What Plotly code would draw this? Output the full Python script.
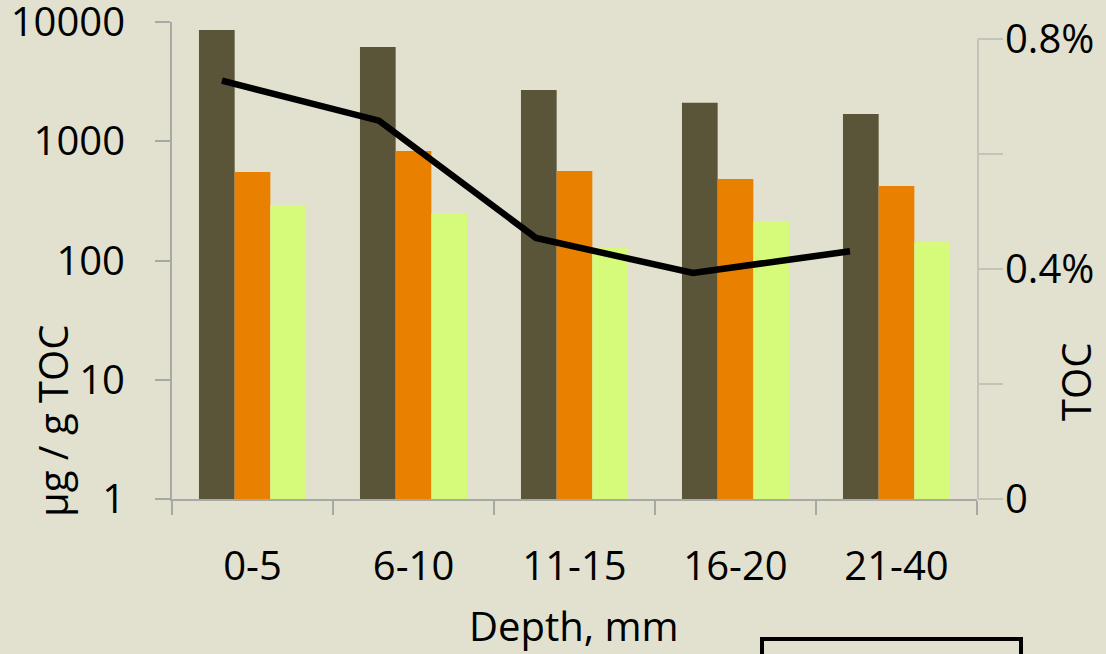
import plotly.graph_objects as go

categories = ["0-5", "6-10", "11-15", "16-20", "21-40"]
series_a = [8550, 6170, 2690, 2100, 1690]
series_b = [552, 829, 564, 482, 421]
series_c = [292, 250, 130, 214, 143]
toc_values = [0.7275, 0.658, 0.454, 0.393, 0.431]  # percent

left_tickvals = [1, 10, 100, 1000, 10000]
left_ticktext = ["1", "10", "100", "1000", "10000"]
right_tickvals = [0, 0.2, 0.4, 0.6, 0.8]
right_ticktext = ["0", "", "0.4%", "", "0.8%"]

BG = "#E2E0CE"
AX = "#A8A8A4"
FONT = "Open Sans"
FS = 40

W, H = 1106, 654
ML, MR, MT, MB = 172, 129, 22, 155
PW = W - ML - MR
PH = H - MT - MB


def px(xp):
    return (xp - ML) / PW


def py(yp):
    return (H - MB - yp) / PH


fig = go.Figure()
fig.add_trace(go.Bar(x=categories, y=series_a, marker=dict(color="#5A5539", line=dict(width=0)), name="a"))
fig.add_trace(go.Bar(x=categories, y=series_b, marker=dict(color="#E98000", line=dict(width=0)), name="b"))
fig.add_trace(go.Bar(x=categories, y=series_c, marker=dict(color="#D6FA7A", line=dict(width=0)), name="c"))
fig.add_trace(go.Scatter(x=categories, y=toc_values, xaxis="x2", yaxis="y2", mode="lines",
                         line=dict(color="black", width=6.5), name="TOC"))

right_top = 0.8 * PH / (PH - 17)

fig.update_layout(
    width=W, height=H,
    margin=dict(l=ML, r=MR, t=MT, b=MB, autoexpand=False),
    paper_bgcolor=BG, plot_bgcolor=BG,
    showlegend=False,
    barmode="group", bargap=0.335, bargroupgap=0,
    font=dict(family=FONT, size=FS, color="black"),
    xaxis=dict(type="category", showline=True, linecolor=AX, linewidth=2, automargin=False,
               ticks="outside", tickson="boundaries", ticklen=14, tickcolor=AX, tickwidth=2,
               showgrid=False, zeroline=False, ticklabelstandoff=31,
               tickfont=dict(family=FONT, size=FS)),
    xaxis2=dict(type="category", overlaying="x", visible=False, range=[-0.318, 4.809]),
    yaxis=dict(type="log", range=[0, 4], tickvals=left_tickvals, ticktext=left_ticktext,
               showline=True, linecolor=AX, linewidth=2, ticks="outside", ticklen=15,
               tickcolor=AX, tickwidth=2, showgrid=False, zeroline=False, automargin=False,
               ticklabeloverflow="allow",
               ticklabelstandoff=22, tickfont=dict(family=FONT, size=FS)),
    yaxis2=dict(overlaying="y", side="right", anchor="x", range=[0, right_top],
                tickvals=right_tickvals, ticktext=right_ticktext, showline=False,
                ticks="outside", ticklen=25, tickcolor="#C4C3BA", tickwidth=2,
                showgrid=False, zeroline=False, ticklabelstandoff=-6, automargin=False,
                ticklabeloverflow="allow",
                tickfont=dict(family=FONT, size=FS)),
    annotations=[
        dict(text="µg / g TOC", x=px(52), y=py(421), xref="paper", yref="paper",
             xanchor="center", yanchor="middle",
             textangle=-90, showarrow=False, font=dict(family=FONT, size=FS)),
        dict(text="TOC", x=px(1075), y=py(382), xref="paper", yref="paper",
             xanchor="center", yanchor="middle",
             textangle=-90, showarrow=False, font=dict(family=FONT, size=FS)),
        dict(text="Depth, mm", x=px(574), y=py(626), xref="paper", yref="paper",
             xanchor="center", yanchor="middle",
             showarrow=False, font=dict(family=FONT, size=FS)),
    ],
    shapes=[
        dict(type="line", xref="paper", yref="y2", x0=px(978), x1=px(978), y0=0, y1=0.8,
             line=dict(color="#C4C3BA", width=2)),
        dict(type="rect", xref="paper", yref="paper", x0=px(762), x1=px(1021),
             y0=py(639), y1=py(680), line=dict(color="black", width=4), fillcolor=BG),
    ],
)

fig.write_html("out.html", config={"displayModeBar": False},
               post_script="document.body.style.margin='0';document.body.style.padding='0';"
                           "document.body.style.background='" + BG + "';")
